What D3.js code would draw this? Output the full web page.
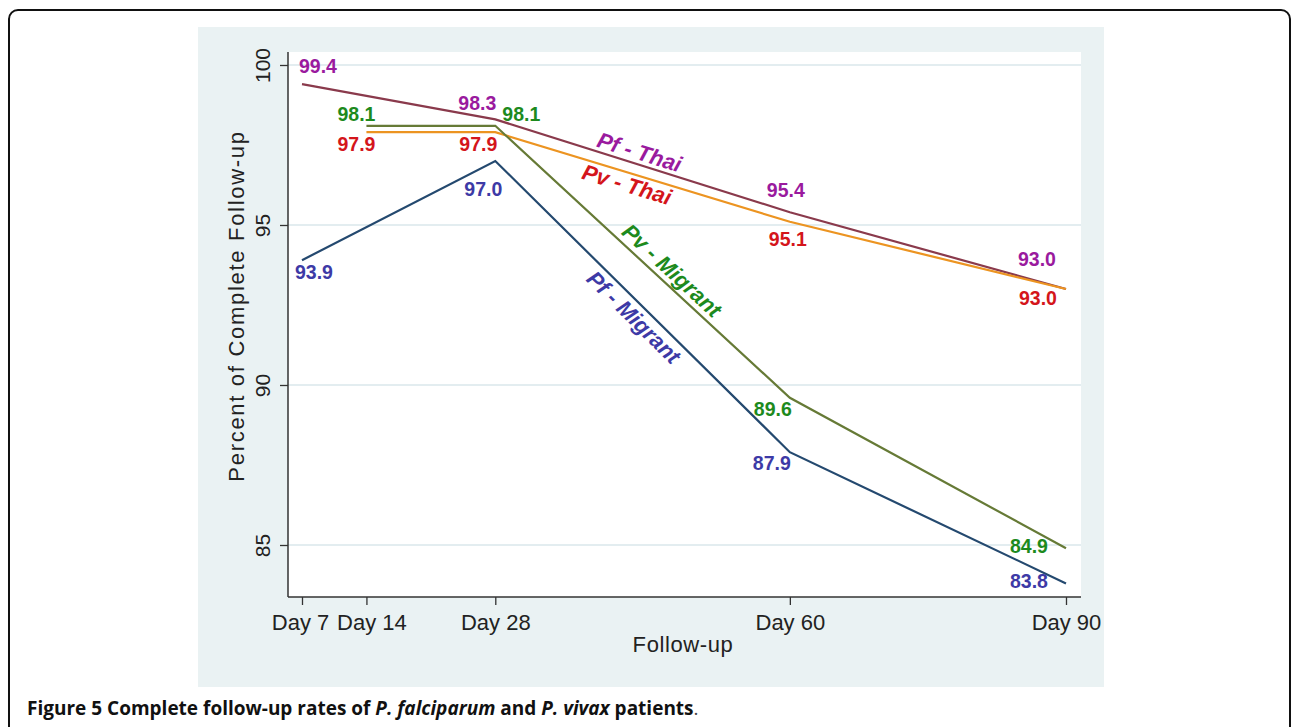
<!DOCTYPE html>
<html>
<head>
<meta charset="utf-8">
<script src="https://cdn.jsdelivr.net/npm/d3@7"></script>
<style>
  body { margin: 0; background: #fff; }
</style>
</head>
<body>
<div id="chart"></div>
<script>
// data
const days = [7, 14, 28, 60, 90];
const dayLabels = ["Day 7", "Day 14", "Day 28", "Day 60", "Day 90"];
const yTicks = [85, 90, 95, 100];

const seriesNames = ["Pf - Thai", "Pv - Thai", "Pv - Migrant", "Pf - Migrant"];
const pfThaiDays = [7, 28, 60, 90];
const pfThaiValues = [99.4, 98.3, 95.4, 93.0];
const pvThaiDays = [14, 28, 60, 90];
const pvThaiValues = [97.9, 97.9, 95.1, 93.0];
const pvMigrantDays = [14, 28, 60, 90];
const pvMigrantValues = [98.1, 98.1, 89.6, 84.9];
const pfMigrantDays = [7, 28, 60, 90];
const pfMigrantValues = [93.9, 97.0, 87.9, 83.8];

// styling
const lineColors = ["#8a3a4c", "#ec9421", "#667a36", "#24496f"];
const labelColors = ["#9a1a9e", "#d4151b", "#1d8a1d", "#3d3aa6"];
// value label offsets [dx, dy] in px from each point to the label's centre
const labelOffsets = [
  [[16, -18], [-18, -16], [-4, -22], [-29, -30]],
  [[-10, 12], [-17, 12], [-2, 17], [-28, 9]],
  [[-10, -12], [26, -12], [-17, 11], [-37, -2.5]],
  [[12, 12], [-12, 28], [-18, 11], [-37, -2.5]]
];
// name label: position along the Day 28 - Day 60 segment plus offset
const nameLabels = [
  { t: 0.49, dx: 0, dy: -13 },
  { t: 0.447, dx: 0, dy: 12 },
  { t: 0.568, dx: 9.5, dy: -10 },
  { t: 0.503, dx: -9.5, dy: 9.6 }
];
// small nudges so "Day 7" and "Day 14" don't touch
const tickLabelShift = [-2, 5, 0, 0, 0];

const W = 1292, H = 727;
const plot = { left: 288, top: 52, right: 1081, bottom: 597 };
const sans = "'Liberation Sans', Arial, sans-serif";

const svg = d3.select("#chart").append("svg")
  .attr("width", W).attr("height", H)
  .style("font-family", sans);

// outer frame
svg.append("rect")
  .attr("x", 9).attr("y", 10)
  .attr("width", 1281).attr("height", 740)
  .attr("rx", 9)
  .attr("fill", "#fff").attr("stroke", "#111").attr("stroke-width", 2);

// graph region
svg.append("rect")
  .attr("x", 198).attr("y", 27)
  .attr("width", 906).attr("height", 660)
  .attr("fill", "#eaf2f3");

svg.append("rect")
  .attr("x", plot.left).attr("y", plot.top)
  .attr("width", plot.right - plot.left).attr("height", plot.bottom - plot.top)
  .attr("fill", "#fff");

const x = d3.scaleLinear().domain([5.48, 91.63]).range([plot.left, plot.right]);
const y = d3.scaleLinear().domain([83.375, 100.406]).range([plot.bottom, plot.top]);

// gridlines
svg.append("g")
  .selectAll("line")
  .data(yTicks)
  .enter().append("line")
  .attr("x1", plot.left).attr("x2", plot.right)
  .attr("y1", d => y(d)).attr("y2", d => y(d))
  .attr("stroke", "#e3edf0").attr("stroke-width", 2);

// axes
const yAxis = svg.append("g")
  .attr("transform", `translate(${plot.left},0)`)
  .call(d3.axisLeft(y).tickValues(yTicks).tickSize(8).tickSizeOuter(0).tickFormat(d3.format("d")));
yAxis.select(".domain").attr("stroke", "#333").attr("stroke-width", 1.5)
  .attr("d", `M0,${plot.top}V${plot.bottom}`);
yAxis.selectAll(".tick line").attr("stroke", "#333").attr("stroke-width", 1.3);
yAxis.selectAll(".tick text")
  .attr("x", null).attr("dy", null)
  .attr("transform", "translate(-18,0) rotate(-90)")
  .attr("text-anchor", "middle")
  .style("font-family", sans)
  .attr("font-size", 21).attr("fill", "#222");

const xAxis = svg.append("g")
  .attr("transform", `translate(0,${plot.bottom})`)
  .call(d3.axisBottom(x).tickValues(days).tickSize(8).tickSizeOuter(0)
    .tickFormat((d, i) => dayLabels[i]));
xAxis.select(".domain").attr("stroke", "#333").attr("stroke-width", 1.5)
  .attr("d", `M${plot.left},0H${plot.right}`);
xAxis.selectAll(".tick line").attr("stroke", "#333").attr("stroke-width", 1.3);
xAxis.selectAll(".tick text")
  .attr("y", 33).attr("dy", null)
  .attr("x", (d, i) => tickLabelShift[i])
  .style("font-family", sans)
  .attr("font-size", 22).attr("fill", "#222");

// axis titles
svg.append("text")
  .attr("x", 683).attr("y", 652)
  .attr("text-anchor", "middle")
  .attr("font-size", 22).attr("fill", "#222")
  .style("letter-spacing", "0.6px")
  .text("Follow-up");

svg.append("text")
  .attr("transform", "translate(244,306) rotate(-90)")
  .attr("text-anchor", "middle")
  .attr("font-size", 22).attr("fill", "#222")
  .style("letter-spacing", "1.7px")
  .text("Percent of Complete Follow-up");

// lines
const allSeries = [
  { days: pfThaiDays, values: pfThaiValues },
  { days: pvThaiDays, values: pvThaiValues },
  { days: pvMigrantDays, values: pvMigrantValues },
  { days: pfMigrantDays, values: pfMigrantValues }
];

const line = d3.line().x(d => x(d[0])).y(d => y(d[1]));
const valueFont = 19.5;

allSeries.forEach((s, i) => {
  const pts = s.days.map((d, j) => [d, s.values[j]]);
  svg.append("path")
    .datum(pts)
    .attr("d", line)
    .attr("fill", "none")
    .attr("stroke", lineColors[i])
    .attr("stroke-width", 2.2);

  svg.append("g").selectAll("text")
    .data(pts)
    .enter().append("text")
    .attr("x", (d, j) => x(d[0]) + labelOffsets[i][j][0])
    .attr("y", (d, j) => y(d[1]) + labelOffsets[i][j][1] + valueFont * 0.36)
    .attr("text-anchor", "middle")
    .attr("font-size", valueFont).attr("font-weight", "bold")
    .attr("fill", labelColors[i])
    .text(d => d[1].toFixed(1));

  // series name along the Day 28 - Day 60 segment
  const a = s.days.indexOf(28), b = s.days.indexOf(60);
  const x0 = x(s.days[a]), y0 = y(s.values[a]);
  const x1 = x(s.days[b]), y1 = y(s.values[b]);
  const nl = nameLabels[i];
  const angle = Math.atan2(y1 - y0, x1 - x0) * 180 / Math.PI;
  const cx = x0 + (x1 - x0) * nl.t + nl.dx;
  const cy = y0 + (y1 - y0) * nl.t + nl.dy;
  svg.append("text")
    .attr("transform", `translate(${cx},${cy}) rotate(${angle})`)
    .attr("text-anchor", "middle")
    .attr("dy", "0.36em")
    .attr("font-size", 22).attr("font-weight", "bold").attr("font-style", "italic")
    .attr("fill", labelColors[i])
    .text(seriesNames[i]);
});

// caption
const cap = svg.append("text")
  .attr("x", 27).attr("y", 715)
  .style("font-family", "'Open Sans', 'Noto Sans', sans-serif")
  .attr("font-size", 19).attr("fill", "#111");
cap.append("tspan").attr("font-weight", "bold").text("Figure 5 Complete follow-up rates of ");
cap.append("tspan").attr("font-weight", "bold").attr("font-style", "italic").text("P. falciparum");
cap.append("tspan").attr("font-weight", "bold").text(" and ");
cap.append("tspan").attr("font-weight", "bold").attr("font-style", "italic").text("P. vivax");
cap.append("tspan").attr("font-weight", "bold").text(" patients");
cap.append("tspan").attr("fill", "#444").text(".");
</script>
</body>
</html>
